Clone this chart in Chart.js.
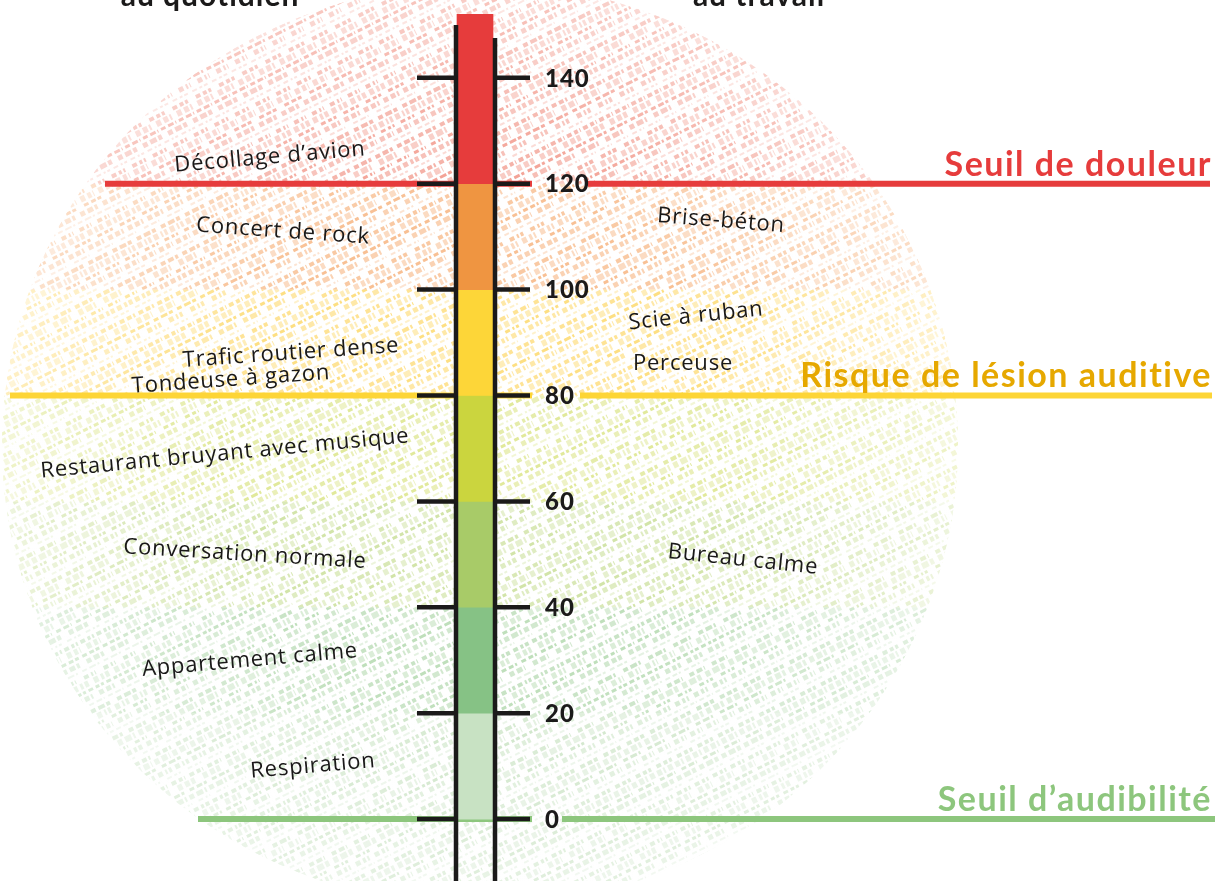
<!DOCTYPE html>
<html lang="fr">
<head>
<meta charset="utf-8">
<title>Échelle des niveaux sonores</title>
<script src="https://cdn.jsdelivr.net/npm/chart.js@4.4.1/dist/chart.umd.min.js"></script>
<style>
    html, body { margin: 0; padding: 0; background: #fff; overflow: hidden; }
    #wrap { width: 1216px; height: 881px; position: relative; }
</style>
</head>
<body>
<div id="wrap"><canvas id="chart" width="1216" height="881"></canvas></div>
<script>
// paliers de la colonne (dB)
const bandLow = [0, 20, 40, 60, 80, 100, 120];
const bandHigh = [20, 40, 60, 80, 100, 120, 152];
const bandColors = ['#c8e2c3', '#86c285', '#a8cb68', '#cbd53e', '#fdd638', '#ef9541', '#e63c3c'];
const hatchColors = ['#c4e0bd', '#b2d8ad', '#c9df98', '#dbe487', '#fdd86a', '#f7b37e', '#f08c7c'];

const tickValues = [0, 20, 40, 60, 80, 100, 120, 140];

// seuils
const thresholdNames = ['Seuil de douleur', 'Risque de lésion auditive', 'Seuil d’audibilité'];
const thresholdValues = [120, 80, 0];
const thresholdColors = ['#e63c3c', '#fdd536', '#8dc67d'];
const thresholdTextColors = ['#e63c3c', '#e6a800', '#8dc67d'];

// au quotidien
const dailyLabels = ['Décollage d’avion', 'Concert de rock', 'Trafic routier dense', 'Tondeuse à gazon',
    'Restaurant bruyant avec musique', 'Conversation normale', 'Appartement calme', 'Respiration'];
const dailyValues = [125, 111, 88, 83, 69, 50, 30, 10];

// au travail
const workLabels = ['Brise-béton', 'Scie à ruban', 'Perceuse', 'Bureau calme'];
const workValues = [113, 95, 86, 49];

const headings = ['au quotidien', 'au travail'];

// mise en page (pixels du canevas, échelle x = pixels)
const COL_X = 475;
const lineStart = [105, 10, 198];
const lineGapEnd = [588, 580, 562];
const lineEnd = [1210, 1212, 1215];
const dailyX = [270, 283, 291, 231, 225, 245, 250, 313];
const dailyAngle = [-5, 4, -4, -4, -5.5, 3.5, -5, -5];
const workX = [721, 696, 683, 743];
const workAngle = [4.5, -6, 0, 6];
const headingX = [210, 759];

function thresholdData(i) {
    const v = thresholdValues[i];
    return [
        { x: lineStart[i], y: v },
        { x: 532, y: v },
        { x: 550, y: null },
        { x: lineGapEnd[i], y: v },
        { x: lineEnd[i], y: v }
    ];
}

// hachures façon crayon
function drawHatch(ctx, chart) {
    const ys = chart.scales.y;
    const area = chart.chartArea;
    const cx = chart.scales.x.getPixelForValue(COL_X);
    ctx.save();
    ctx.beginPath();
    ctx.ellipse(cx + 5, 445, 478, 462, 0, 0, Math.PI * 2);
    ctx.clip();
    ctx.lineCap = 'butt';
    for (let b = 0; b < bandLow.length; b++) {
        const top = b === bandLow.length - 1 ? area.top : ys.getPixelForValue(bandHigh[b]);
        const bottom = b === 0 ? area.bottom : ys.getPixelForValue(bandLow[b]);
        ctx.save();
        ctx.beginPath();
        ctx.rect(area.left, top, area.right - area.left, bottom - top);
        ctx.clip();
        ctx.strokeStyle = hatchColors[b];
        for (let k = 0; k < 200; k++) {
            // droites de pente 0.5 qui balaient tout le canevas
            const y0 = k * 7.5;
            ctx.lineWidth = 2 + (k * 7) % 5;
            ctx.globalAlpha = 0.35 + ((k * 13) % 5) * 0.12;
            ctx.setLineDash([2 + (k * 7) % 6, 2 + (k * 5) % 5, 1 + (k * 3) % 4, 3 + (k * 11) % 7, 5, 3]);
            ctx.lineDashOffset = (k * 17) % 29;
            ctx.beginPath();
            ctx.moveTo(0, y0);
            ctx.lineTo(1216, y0 - 608);
            ctx.stroke();
        }
        ctx.restore();
    }
    // estompe vers les bords
    const g = ctx.createRadialGradient(cx + 5, 445, 250, cx + 5, 445, 478);
    g.addColorStop(0, 'rgba(255,255,255,0)');
    g.addColorStop(1, 'rgba(255,255,255,0.45)');
    ctx.globalAlpha = 1;
    ctx.fillStyle = g;
    ctx.fillRect(area.left, area.top, area.right - area.left, area.bottom - area.top);
    ctx.restore();
}

function drawLabel(ctx, text, x, y, angle) {
    ctx.save();
    ctx.translate(x, y);
    ctx.rotate(angle * Math.PI / 180);
    ctx.fillText(text, 0, 0);
    ctx.restore();
}

const decorPlugin = {
    id: 'decor',
    beforeDatasetsDraw(chart) {
        drawHatch(chart.ctx, chart);
    },
    afterDatasetsDraw(chart) {
        const ctx = chart.ctx;
        const xs = chart.scales.x;
        const ys = chart.scales.y;
        const cx = xs.getPixelForValue(COL_X);
        const bottom = chart.chartArea.bottom;

        // bords de la colonne
        ctx.save();
        ctx.strokeStyle = '#1b1a1a';
        ctx.lineWidth = 4.5;
        ctx.beginPath();
        ctx.moveTo(cx - 19, ys.getPixelForValue(150));
        ctx.lineTo(cx - 19, bottom);
        ctx.moveTo(cx + 20, ys.getPixelForValue(147.5));
        ctx.lineTo(cx + 20, bottom);
        ctx.stroke();

        // graduations
        ctx.lineWidth = 4.5;
        ctx.fillStyle = '#1b1a1a';
        ctx.font = '900 24px Lato';
        ctx.letterSpacing = '1px';
        ctx.textAlign = 'left';
        ctx.textBaseline = 'middle';
        tickValues.forEach(v => {
            const y = ys.getPixelForValue(v);
            ctx.beginPath();
            ctx.moveTo(cx - 58, y);
            ctx.lineTo(cx - 19, y);
            ctx.moveTo(cx + 20, y);
            ctx.lineTo(cx + 55, y);
            ctx.stroke();
            ctx.fillText(String(v), cx + 70, y + 1);
        });

        // étiquettes des sources
        ctx.font = '22px "Open Sans"';
        ctx.letterSpacing = '0.8px';
        ctx.textAlign = 'center';
        ctx.fillStyle = '#1a1919';
        dailyLabels.forEach((t, i) => {
            drawLabel(ctx, t, xs.getPixelForValue(dailyX[i]), ys.getPixelForValue(dailyValues[i]), dailyAngle[i]);
        });
        workLabels.forEach((t, i) => {
            drawLabel(ctx, t, xs.getPixelForValue(workX[i]), ys.getPixelForValue(workValues[i]), workAngle[i]);
        });

        // titres des seuils
        ctx.font = 'bold 34px Lato';
        ctx.letterSpacing = '1.5px';
        ctx.textAlign = 'right';
        ctx.textBaseline = 'alphabetic';
        thresholdNames.forEach((t, i) => {
            ctx.fillStyle = thresholdTextColors[i];
            ctx.fillText(t, xs.getPixelForValue(1212), ys.getPixelForValue(thresholdValues[i]) - 8);
        });

        // titres du haut (coupés)
        ctx.font = 'bold 30px Lato';
        ctx.letterSpacing = '1px';
        ctx.textAlign = 'center';
        ctx.fillStyle = '#1b1a1a';
        headings.forEach((t, i) => {
            ctx.fillText(t, xs.getPixelForValue(headingX[i]), 6);
        });
        ctx.restore();
    }
};

const datasets = [{
    type: 'bar',
    label: 'Niveau sonore (dB)',
    data: bandLow.map((lo, i) => ({ x: COL_X, y: [lo, bandHigh[i]] })),
    backgroundColor: bandColors,
    borderWidth: 0,
    barThickness: 36,
    order: 0
}];

thresholdNames.forEach((name, i) => {
    datasets.push({
        type: 'line',
        label: name,
        data: thresholdData(i),
        borderColor: thresholdColors[i],
        borderWidth: 6,
        pointRadius: 0,
        spanGaps: false,
        order: 1
    });
});

new Chart(document.getElementById('chart'), {
    type: 'bar',
    data: { datasets: datasets },
    options: {
        responsive: false,
        animation: false,
        events: [],
        layout: { padding: 0 },
        scales: {
            x: { type: 'linear', min: 0, max: 1216, offset: false, display: false },
            y: { type: 'linear', min: -11.7, max: 154.7, display: false }
        },
        plugins: {
            legend: { display: false },
            tooltip: { enabled: false }
        }
    },
    plugins: [decorPlugin]
});
</script>
</body>
</html>
